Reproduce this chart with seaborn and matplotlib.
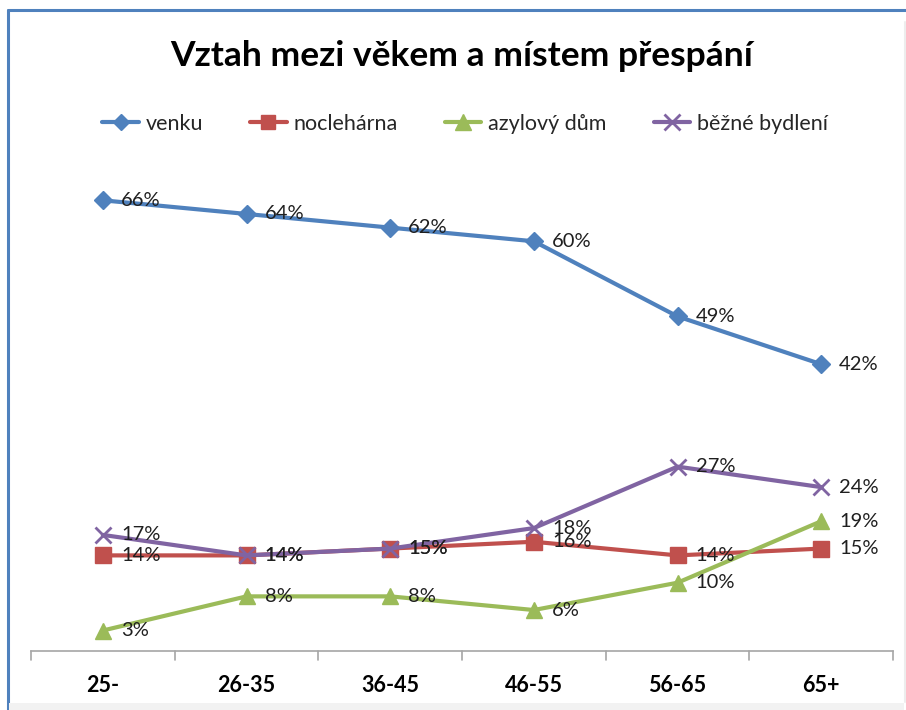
import matplotlib
matplotlib.use("Agg")
import matplotlib.pyplot as plt
import seaborn as sns
import pandas as pd
from matplotlib.patches import Rectangle
from matplotlib.lines import Line2D

categories = ["25-", "26-35", "36-45", "46-55", "56-65", "65+"]
venku = [66, 64, 62, 60, 49, 42]
nocleharna = [14, 14, 15, 16, 14, 15]
azylovy_dum = [3, 8, 8, 6, 10, 19]
bezne_bydleni = [17, 14, 15, 18, 27, 24]
series_names = ["venku", "nocleharna", "azylový dům", "běžné bydlení"]
series_labels = ["venku", "noclehárna", "azylový dům", "běžné bydlení"]
title = "Vztah mezi věkem a místem přespání"

sns.set_theme(style="white")
plt.rcParams['font.family'] = ['Lato', 'DejaVu Sans']

rows = []
for name, vals in zip(series_names, [venku, nocleharna, azylovy_dum, bezne_bydleni]):
    for i, v in enumerate(vals):
        rows.append({"věk": i, "série": name, "hodnota": v})
df = pd.DataFrame(rows)

colors = {"venku": "#4F81BD", "nocleharna": "#C0504D",
          "azylový dům": "#9BBB59", "běžné bydlení": "#8064A2"}
markers = {"venku": "D", "nocleharna": "s", "azylový dům": "^", "běžné bydlení": "x"}
msizes = {"venku": 9, "nocleharna": 11, "azylový dům": 12, "běžné bydlení": 12}

W, H = 906, 710
fig = plt.figure(figsize=(W / 100, H / 100), dpi=100)
fig.patch.set_facecolor("white")

# chart border
fig.add_artist(Line2D([8 / W, 1.0], [1 - 10 / H, 1 - 10 / H], transform=fig.transFigure,
                      color="#4F81BD", linewidth=2.2, zorder=0))
fig.add_artist(Line2D([8 / W, 8 / W], [0, 1 - 10 / H], transform=fig.transFigure,
                      color="#4F81BD", linewidth=2.2, zorder=0))
fig.add_artist(Line2D([904.5 / W, 904.5 / W], [8 / H, 1 - 22 / H], transform=fig.transFigure,
                      color="#EDEDED", linewidth=1.5, zorder=0))
fig.add_artist(Rectangle((9 / W, 0), (904 - 9) / W, 7 / H, transform=fig.transFigure,
                         facecolor="#F2F2F2", edgecolor="none", zorder=0))

left, right = 31 / W, 893 / W
bottom = (H - 651) / H
top = (H - 173) / H
ax = fig.add_axes([left, bottom, right - left, top - bottom])

for name in series_names:
    sub = df[df["série"] == name]
    sns.lineplot(data=sub, x="věk", y="hodnota", ax=ax, color=colors[name],
                 linewidth=3, marker=markers[name], markersize=msizes[name],
                 markeredgecolor=colors[name], markeredgewidth=2 if name == "běžné bydlení" else 1,
                 legend=False)
    for i, v in enumerate(sub["hodnota"]):
        ax.annotate(f"{v}%", (i, v), xytext=(13, 0), textcoords="offset points",
                    ha="left", va="center", fontsize=14.5, color="#1F1F1F")

ax.set_xlim(-0.5, 5.5)
ax.set_ylim(0, 70)
ax.set_xticks(range(6))
ax.set_xticklabels(categories, fontsize=15.5, fontweight="bold", color="black")
ax.set_yticks([])
ax.set_xlabel("")
ax.set_ylabel("")
for s in ["top", "right", "left"]:
    ax.spines[s].set_visible(False)
ax.spines["bottom"].set_color("#A6A6A6")
ax.spines["bottom"].set_linewidth(1.2)
ax.tick_params(axis="x", length=0, pad=17)
for b in [x + 0.5 for x in range(-1, 6)]:
    ax.plot([b, b], [0, -1.3], color="#A6A6A6", lw=1.2, clip_on=False)

fig.text(462 / W, 1 - 56 / H, title, ha="center", va="center",
         fontsize=25.5, fontweight="bold", color="black")

handles = [Line2D([0], [0], color=colors[n], lw=3, marker=markers[n],
                  markersize=msizes[n] - 1, markeredgecolor=colors[n],
                  markeredgewidth=2 if n == "běžné bydlení" else 1)
           for n in series_names]
fig.legend(handles, series_labels, loc="center", bbox_to_anchor=(465 / W, 1 - 124 / H),
           ncol=4, frameon=False, fontsize=15.5, handlelength=1.7, handletextpad=0.3,
           columnspacing=2.2)

fig.savefig("out.png", dpi=100)
